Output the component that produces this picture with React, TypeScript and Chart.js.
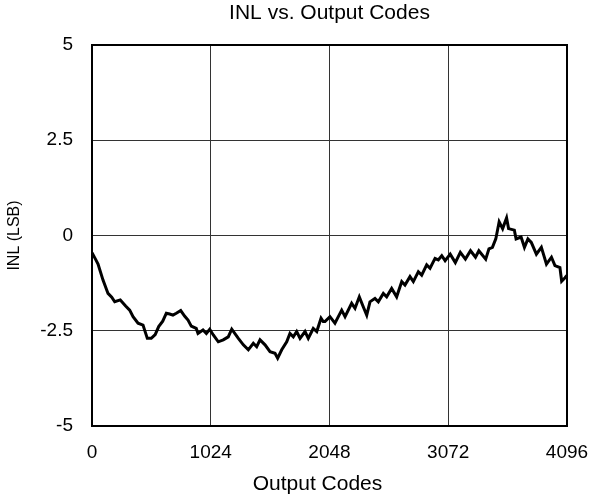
import React, { useEffect, useRef } from "react";
import { Chart, registerables } from "chart.js";

Chart.register(...registerables);

const chartTitle = "INL vs. Output Codes";
const xAxisTitle = "Output Codes";
const yAxisTitle = "INL (LSB)";

const xTicks = [0, 1024, 2048, 3072, 4096];
const yTicks = [-5, -2.5, 0, 2.5, 5];

const codes = [
  0, 30, 52, 95, 138, 170, 196, 244, 290, 325, 354, 397, 440, 477, 511, 545,
  575, 610, 641, 670, 698, 727, 765, 800, 828, 856, 899, 914, 957, 986, 1015,
  1046, 1089, 1132, 1175, 1205, 1262, 1305, 1348, 1391, 1420, 1449, 1492,
  1535, 1578, 1601, 1636, 1679, 1707, 1736, 1765, 1794, 1837, 1865, 1908,
  1938, 1975, 1994, 2009, 2052, 2095, 2153, 2182, 2239, 2268, 2305, 2339,
  2369, 2397, 2440, 2469, 2512, 2541, 2584, 2627, 2671, 2699, 2742, 2771,
  2814, 2843, 2886, 2915, 2958, 2986, 3016, 3045, 3089, 3133, 3176, 3220,
  3264, 3307, 3336, 3395, 3423, 3453, 3482, 3511, 3541, 3575, 3592, 3642,
  3657, 3700, 3729, 3759, 3788, 3832, 3875, 3919, 3962, 3992, 4035, 4050,
  4079, 4095,
];

const inl = [
  -0.45, -0.62, -0.75, -1.17, -1.52, -1.62, -1.74, -1.69, -1.85, -1.96,
  -2.13, -2.3, -2.35, -2.7, -2.7, -2.6, -2.39, -2.25, -2.04, -2.06, -2.09,
  -2.04, -1.97, -2.12, -2.22, -2.38, -2.44, -2.57, -2.48, -2.57, -2.46,
  -2.61, -2.79, -2.74, -2.66, -2.46, -2.7, -2.87, -3.0, -2.83, -2.92, -2.74,
  -2.87, -3.05, -3.09, -3.22, -3.0, -2.79, -2.57, -2.66, -2.52, -2.7, -2.52,
  -2.7, -2.44, -2.52, -2.17, -2.26, -2.26, -2.13, -2.3, -1.96, -2.13, -1.78,
  -1.91, -1.61, -1.87, -2.09, -1.74, -1.65, -1.74, -1.52, -1.61, -1.39,
  -1.61, -1.21, -1.3, -1.08, -1.21, -0.95, -1.04, -0.77, -0.86, -0.6, -0.64,
  -0.53, -0.66, -0.49, -0.71, -0.44, -0.62, -0.4, -0.57, -0.4, -0.62, -0.35,
  -0.31, -0.09, 0.36, 0.18, 0.46, 0.18, 0.14, -0.09, -0.04, -0.31, -0.09,
  -0.18, -0.49, -0.31, -0.75, -0.57, -0.79, -0.84, -1.2, -1.11, -1.05,
];

const FONT = "Arial, 'Liberation Sans', sans-serif";

const decorPlugin = {
  id: "decor",
  afterDraw(chart: any) {
    const { ctx, chartArea } = chart;
    const { left, right, top, bottom } = chartArea;
    ctx.save();
    ctx.strokeStyle = "#000";
    ctx.lineWidth = 2;
    ctx.strokeRect(left, top, right - left, bottom - top);
    ctx.fillStyle = "#000";
    ctx.textAlign = "center";
    ctx.textBaseline = "middle";
    ctx.font = `21px ${FONT}`;
    ctx.fillText(chartTitle, (left + right) / 2, 13);
    ctx.font = `21px ${FONT}`;
    ctx.fillText(xAxisTitle, (left + right) / 2 - 12, 484);
    ctx.translate(15, (top + bottom) / 2);
    ctx.rotate(-Math.PI / 2);
    ctx.font = `16px ${FONT}`;
    ctx.fillText(yAxisTitle, 0, 0);
    ctx.restore();
  },
};

export default function App() {
  const ref = useRef<HTMLCanvasElement | null>(null);

  useEffect(() => {
    if (!ref.current) return;
    const points = codes.map((c, i) => ({ x: c, y: inl[i] }));
    const chart = new Chart(ref.current, {
      type: "line",
      data: {
        datasets: [
          {
            data: points,
            borderColor: "#000",
            borderWidth: 3,
            pointRadius: 0,
            tension: 0,
            fill: false,
          },
        ],
      },
      options: {
        animation: false,
        responsive: false,
        maintainAspectRatio: false,
        layout: { padding: { top: 45, right: 25, bottom: 0, left: 0 } },
        plugins: {
          legend: { display: false },
          tooltip: { enabled: false },
          title: { display: false },
        },
        scales: {
          x: {
            type: "linear",
            min: xTicks[0],
            max: xTicks[xTicks.length - 1],
            afterBuildTicks: (s: any) => {
              s.ticks = xTicks.map((v) => ({ value: v }));
            },
            afterFit: (s: any) => {
              s.height = 71;
              s.paddingLeft = 0;
              s.paddingRight = 0;
            },
            border: { display: false },
            grid: {
              color: "#333",
              lineWidth: 1,
              drawTicks: false,
            },
            ticks: {
              color: "#000",
              font: { family: FONT, size: 19 },
              padding: 15,
              maxRotation: 0,
              autoSkip: false,
              callback: (v: any) => String(v),
            },
          },
          y: {
            type: "linear",
            min: yTicks[0],
            max: yTicks[yTicks.length - 1],
            afterBuildTicks: (s: any) => {
              s.ticks = yTicks.map((v) => ({ value: v }));
            },
            afterFit: (s: any) => {
              s.width = 92;
              s.paddingTop = 0;
              s.paddingBottom = 0;
            },
            border: { display: false },
            grid: {
              color: "#333",
              lineWidth: 1,
              drawTicks: false,
            },
            ticks: {
              color: "#000",
              font: { family: FONT, size: 19 },
              padding: 19,
              autoSkip: false,
              callback: (v: any) => String(v),
            },
          },
        },
      },
      plugins: [decorPlugin],
    });
    return () => chart.destroy();
  }, []);

  return (
    <div style={{ position: "fixed", left: 0, top: 0, width: 592, height: 497, background: "#fff" }}>
      <canvas ref={ref} width={592} height={497} style={{ width: 592, height: 497 }} />
    </div>
  );
}
